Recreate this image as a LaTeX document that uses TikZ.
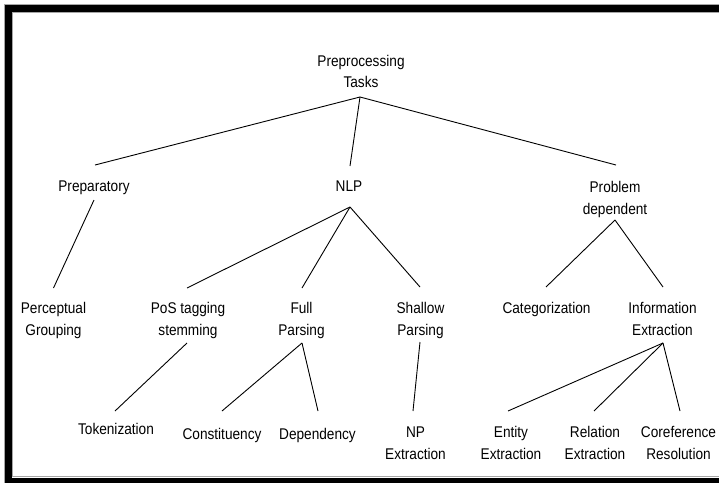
\documentclass[tikz,border=0pt]{standalone}
\usepackage{fontspec}
\setmainfont[FakeStretch=0.88]{Liberation Sans}
\begin{document}
\begin{tikzpicture}[x=1pt,y=-1pt,
  lbl/.style={anchor=base,align=center,inner sep=0pt,outer sep=0pt,
    font=\fontsize{15.5}{21.5}\selectfont},
  edge/.style={line width=0.9pt,black}]
\useasboundingbox (0,0) rectangle (719,482);
\clip (0,0) rectangle (719,482);
\fill[white] (0,0) rectangle (719,482);
% frame
\draw[gray!70,line width=0.8pt] (4,4) rectangle (740,500);
\draw[black,line width=7pt] (8.5,8.5) rectangle (740,481.5);
\draw[gray!70,line width=0.8pt] (12.5,12.5) rectangle (740,476.5);
% nodes (base = baseline of the last line)
\node[lbl] (root) at (361,87.5) {Preprocessing\\Tasks};
\node[lbl] (prep) at (94,191) {Preparatory};
\node[lbl] (nlp)  at (349,191) {NLP};
\node[lbl] (prob) at (615,214) {Problem\\dependent};
\node[lbl] (perc) at (53.5,335) {Perceptual\\Grouping};
\node[lbl] (pos)  at (188,335) {PoS tagging\\stemming};
\node[lbl] (full) at (301.5,335) {Full\\Parsing};
\node[lbl] (shal) at (420.5,335) {Shallow\\Parsing};
\node[lbl] (cat)  at (546.5,313) {Categorization};
\node[lbl] (info) at (662.5,335) {Information\\Extraction};
\node[lbl] (tok)  at (116,434) {Tokenization};
\node[lbl] (con)  at (222,439) {Constituency};
\node[lbl] (dep)  at (317.5,439) {Dependency};
\node[lbl] (np)   at (415.5,459) {NP\\Extraction};
\node[lbl] (ent)  at (511,459) {Entity\\Extraction};
\node[lbl] (rel)  at (595,459) {Relation\\Extraction};
\node[lbl] (cor)  at (678.5,459) {Coreference\\Resolution};
% connectors
\draw[edge] ([shift={(-1,9.5)}]root.base) -- ([shift={(1,-26)}]prep.base);
\draw[edge] ([shift={(-1,9.5)}]root.base) -- ([shift={(1,-25)}]nlp.base);
\draw[edge] ([shift={(-1,9.5)}]root.base) -- ([shift={(1,-49)}]prob.base);
\draw[edge] ([shift={(0,9)}]prep.base) -- ([shift={(0,-47)}]perc.base);
\draw[edge] ([shift={(1,16)}]nlp.base) -- ([shift={(-1,-47)}]pos.base);
\draw[edge] ([shift={(1,16)}]nlp.base) -- ([shift={(0.5,-47)}]full.base);
\draw[edge] ([shift={(1,16)}]nlp.base) -- ([shift={(-0.5,-48)}]shal.base);
\draw[edge] ([shift={(0,6)}]prob.base) -- ([shift={(-0.5,-26)}]cat.base);
\draw[edge] ([shift={(0,6)}]prob.base) -- ([shift={(0.5,-48)}]info.base);
\draw[edge] ([shift={(-1,8)}]pos.base) -- ([shift={(-1,-23)}]tok.base);
\draw[edge] ([shift={(0.5,8)}]full.base) -- ([shift={(0,-28)}]con.base);
\draw[edge] ([shift={(0.5,8)}]full.base) -- ([shift={(0.5,-28)}]dep.base);
\draw[edge] ([shift={(-0.5,7)}]shal.base) -- ([shift={(-2.5,-48)}]np.base);
\draw[edge] ([shift={(0.5,8)}]info.base) -- ([shift={(-3,-48)}]ent.base);
\draw[edge] ([shift={(0.5,8)}]info.base) -- ([shift={(-1,-48)}]rel.base);
\draw[edge] ([shift={(0.5,8)}]info.base) -- ([shift={(1.5,-48)}]cor.base);
\end{tikzpicture}
\end{document}
